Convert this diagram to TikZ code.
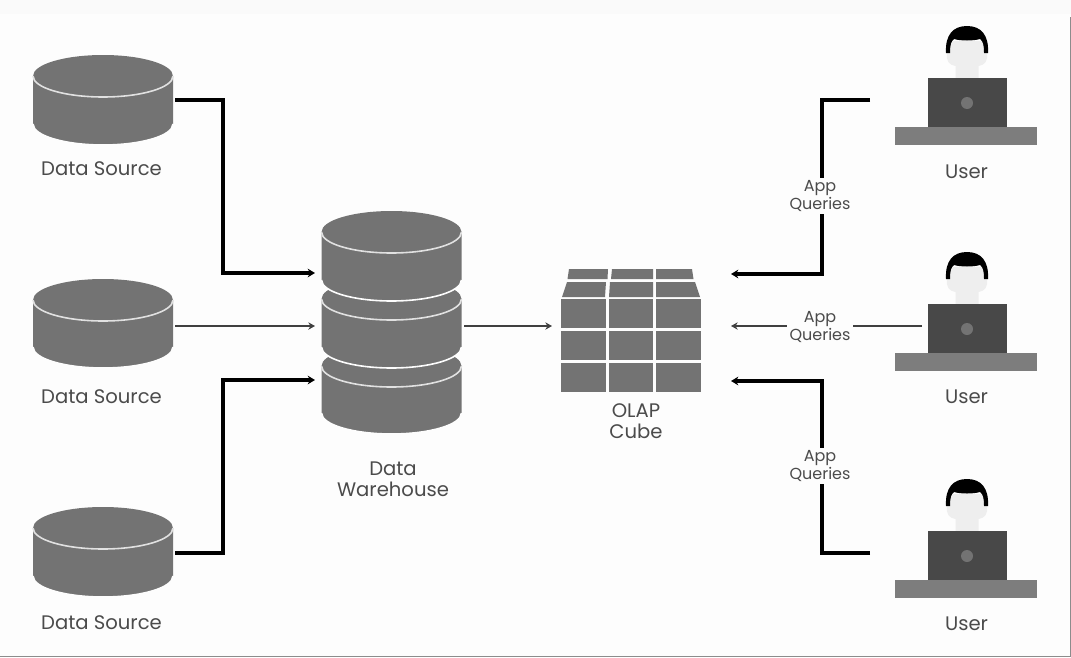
\documentclass[tikz,border=0pt]{standalone}
\usepackage{fontspec}
\setmainfont{Poppins}
\usetikzlibrary{arrows.meta}
\definecolor{bodygray}{RGB}{115,115,115}
\definecolor{deskgray}{RGB}{125,125,125}
\definecolor{laptopgray}{RGB}{72,72,72}
\definecolor{facegray}{RGB}{238,238,238}
\definecolor{textgray}{RGB}{75,75,75}
\definecolor{paper}{RGB}{253,253,253}
\definecolor{rimgray}{RGB}{225,225,225}

\tikzset{
  hitbox/.style={inner sep=0pt,minimum width=105pt,minimum height=66pt},
  usrbox/.style={inner sep=0pt,minimum width=106.5pt,minimum height=89pt},
  caption/.style={inner sep=0pt,align=center,text=textgray,font=\fontsize{14.7}{15.5}\selectfont},
  qlabel/.style={inner sep=2pt,align=center,fill=paper,text=textgray,font=\fontsize{12}{11.3}\selectfont},
  thinlink/.style={draw=black!75,line width=1.4pt,-{Stealth[length=5pt,width=5.5pt]}},
  elbow/.style={draw=black,line width=2.4pt,-{Stealth[length=5.5pt,width=6.5pt]}},
  cell/.style={fill=bodygray},
  % one tier of a drum, origin at the top ellipse centre
  pics/tier/.style={code={
    \fill[bodygray] (-70,0) -- (-70,#1) arc[start angle=180,end angle=0,x radius=70,y radius=21] -- (70,0) -- cycle;
    \fill[bodygray] (0,0) ellipse[x radius=70,y radius=21];
    \draw[rimgray,line width=1.2pt] (-70,0) arc[start angle=180,end angle=0,x radius=70,y radius=21];
    \draw[paper,line width=1.2pt] (-70,#1) arc[start angle=180,end angle=0,x radius=70,y radius=21];
  }},
  pics/person/.style={code={
    % face
    \fill[facegray] (-11.5,-25) -- (-11.5,-37) .. controls (-18,-38) and (-21,-42) .. (-20,-50) -- (-20,-62) -- (20,-62) -- (20,-50) .. controls (21,-42) and (18,-38) .. (11.5,-37) -- (11.5,-25) -- cycle;
    % hair
    \fill[black] (-21,-50) .. controls (-22,-68) and (-14,-77) .. (0,-77) .. controls (14,-77) and (22,-68) .. (21,-50) -- (17,-50)
      .. controls (17,-58) and (16,-62) .. (13,-64) .. controls (6,-62) and (-6,-62) .. (-13,-64) .. controls (-16,-62) and (-17,-58) .. (-17,-50) -- cycle;
    % laptop and desk
    \fill[laptopgray] (-39.5,-25) rectangle (39.5,24);
    \fill[bodygray] (0,0) circle[radius=6];
    \fill[deskgray] (-72,24) rectangle (70,42);
  }}
}

\begin{document}
\begin{tikzpicture}[x=0.75pt,y=0.75pt,yscale=-1,xscale=1]
    \useasboundingbox (0,0) rectangle (1071,657);
    \fill[paper] (0,0) rectangle (1071,657);
    \fill[black!2] (0,0) rectangle (1071,14);
    \draw[black!45,line width=0.7pt] (0,656.5) -- (1070.5,656.5) -- (1070.5,17);

    % Data sources
    \node (src1) [hitbox] at (103,100) {};
    \node (src2) [hitbox] at (103,325) {};
    \node (src3) [hitbox] at (103,553) {};
    \path (103,76) pic[transform shape] {tier=48};
    \path (103,300) pic[transform shape] {tier=47};
    \path (103,528) pic[transform shape] {tier=48};

    \node (srclabel1) [caption] at (101.5,169) {Data Source};
    \node (srclabel2) [caption] at (101.5,397) {Data Source};
    \node (srclabel3) [caption] at (101.5,623) {Data Source};

    % Data warehouse
    \node (dw) [inner sep=0pt,minimum width=105pt,minimum height=166pt] at (391.5,322.5) {};
    \path (391.5,366) pic[transform shape] {tier=47};
    \path (391.5,299) pic[transform shape] {tier=48};
    \path (391.5,232) pic[transform shape] {tier=48};
    \node (dwlabel) [caption] at (393,479) {Data\\Warehouse};

    % OLAP cube
    \node (cube) [inner sep=0pt,minimum width=105pt,minimum height=92pt] at (631,330.5) {};
    \fill[cell] (561,299) rectangle (605.5,328);
    \fill[cell] (608.5,299) rectangle (653,328);
    \fill[cell] (656,299) rectangle (701,328);
    \fill[cell] (561,331) rectangle (605.5,360);
    \fill[cell] (608.5,331) rectangle (653,360);
    \fill[cell] (656,331) rectangle (701,360);
    \fill[cell] (561,363) rectangle (605.5,392);
    \fill[cell] (608.5,363) rectangle (653,392);
    \fill[cell] (656,363) rectangle (701,392);
    \fill[cell] (562,297) -- (567,282) -- (606,282) -- (605,297) -- cycle;
    \fill[cell] (609,297) -- (610,282) -- (653,282) -- (653,297) -- cycle;
    \fill[cell] (656,297) -- (656,282) -- (695,282) -- (700,297) -- cycle;
    \fill[cell] (567.5,279) -- (569,269) -- (608,269) -- (607.5,279) -- cycle;
    \fill[cell] (611,279) -- (612,269) -- (653,269) -- (653,279) -- cycle;
    \fill[cell] (656,279) -- (656,269) -- (692,269) -- (693.5,279) -- cycle;
    \node (cubelabel) [caption] at (636,421) {OLAP\\Cube};

    % Users
    \node (usr1) [usrbox] at (966,111) {};
    \node (usr2) [usrbox] at (966,336) {};
    \node (usr3) [usrbox] at (966,563) {};
    \path (967,103) pic[transform shape] {person};
    \path (967,329) pic[transform shape] {person};
    \path (967,556) pic[transform shape] {person};
    \node (usrlabel1) [caption] at (966.5,172) {User};
    \node (usrlabel2) [caption] at (966.5,397) {User};
    \node (usrlabel3) [caption] at (966.5,624) {User};

    % Arrow ends
    \coordinate (dwin1) at (315,273);
    \coordinate (dwin2) at (315,326);
    \coordinate (dwin3) at (315,380);
    \coordinate (dwout) at (464,326);
    \coordinate (cubein) at (552,326);
    \coordinate (cubeq1) at (731,274);
    \coordinate (cubeq2) at (731,326);
    \coordinate (cubeq3) at (731,381);
    \coordinate (usrout1) at (870,100);
    \coordinate (usrout2) at (922,326);
    \coordinate (usrout3) at (870,553);
    \coordinate (srcout1) at (175,100);
    \coordinate (srcout2) at (175,326);
    \coordinate (srcout3) at (175,553);

    % Connectors
    \draw[elbow] (srcout1) -| (223,273) -- (dwin1);
    \draw[thinlink] (srcout2) -- (dwin2);
    \draw[elbow] (srcout3) -| (223,380) -- (dwin3);
    \draw[thinlink] (dwout) -- (cubein);
    \draw[elbow] (usrout1) -| (822,274) -- (cubeq1);
    \draw[thinlink] (usrout2) -- (cubeq2);
    \draw[elbow] (usrout3) -| (822,381) -- (cubeq3);

    \node (query1) [qlabel] at (820,196) {App\\Queries};
    \node (query2) [qlabel] at (820,327) {App\\Queries};
    \node (query3) [qlabel] at (820,466) {App\\Queries};
\end{tikzpicture}
\end{document}
